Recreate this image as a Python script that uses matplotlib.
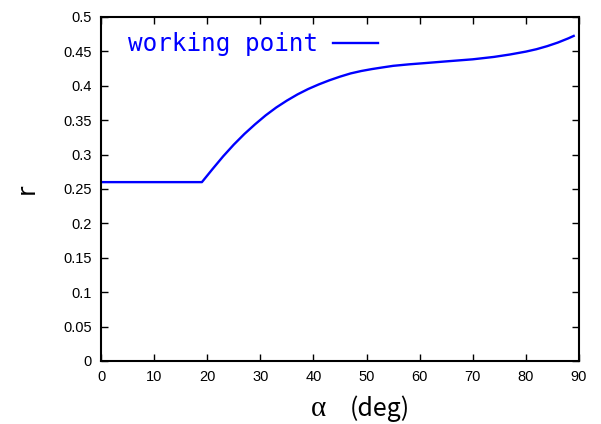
import matplotlib
matplotlib.use("Agg")
import matplotlib.pyplot as plt

alpha_deg = [0, 19, 21, 23, 25, 27, 29, 31, 33, 35, 37, 39, 41, 43, 45, 47, 49, 51, 53,
             55, 58, 61, 65, 70, 74, 77, 80, 82, 84, 86, 88, 89]
r_values = [0.26, 0.26, 0.2790, 0.2975, 0.3145, 0.3300, 0.3440, 0.3570, 0.3685, 0.3785,
            0.3875, 0.3953, 0.4020, 0.4080, 0.4133, 0.4180, 0.4215, 0.4243, 0.4267,
            0.4290, 0.4312, 0.4330, 0.4355, 0.4385, 0.4420, 0.4455, 0.4497, 0.4532,
            0.4576, 0.4628, 0.4690, 0.4725]
series_label = "working point"
xticks = list(range(0, 91, 10))
yticks = [0, 0.05, 0.1, 0.15, 0.2, 0.25, 0.3, 0.35, 0.4, 0.45, 0.5]
yticklabels = ["0", "0.05", "0.1", "0.15", "0.2", "0.25", "0.3", "0.35", "0.4", "0.45", "0.5"]

plt.rcParams['font.family'] = ['Liberation Sans', 'DejaVu Sans']

fig = plt.figure(figsize=(6.01, 4.24), dpi=100)
ax = fig.add_axes([101/601, 1-361/424, 478/601, 344/424])

ax.plot(alpha_deg, r_values, color='#0000ff', lw=1.7, label=series_label,
        solid_joinstyle='round')
ax.set_xlim(0, 90)
ax.set_ylim(0, 0.5)
ax.set_xticks(xticks)
ax.set_yticks(yticks)
ax.set_yticklabels(yticklabels)
ax.tick_params(direction='in', length=5, width=1, top=True, right=True,
               labelsize=10.5, pad=6.5)
for s in ax.spines.values():
    s.set_linewidth(1.5)

# x label: alpha (serif) + (deg) (gothic)
fig.text(319/601, 8/424, "α", family=['Liberation Serif', 'DejaVu Serif'], fontsize=21,
         ha='center', va='baseline')
fig.text(380/601, 8/424, "(deg)", family=['Noto Sans CJK JP', 'DejaVu Sans'], fontsize=18,
         ha='center', va='baseline')
ax.set_ylabel("r", family=['DejaVu Sans'], fontsize=18, labelpad=18)

leg = ax.legend(loc='center left', bbox_to_anchor=(0.0565, 0.921), borderaxespad=0,
                borderpad=0, frameon=False, markerfirst=False, handlelength=1.85,
                handletextpad=0.6, labelcolor='#0000ff',
                prop={'family': ['DejaVu Sans Mono'], 'size': 17.5})

fig.savefig("out.png", dpi=100)
